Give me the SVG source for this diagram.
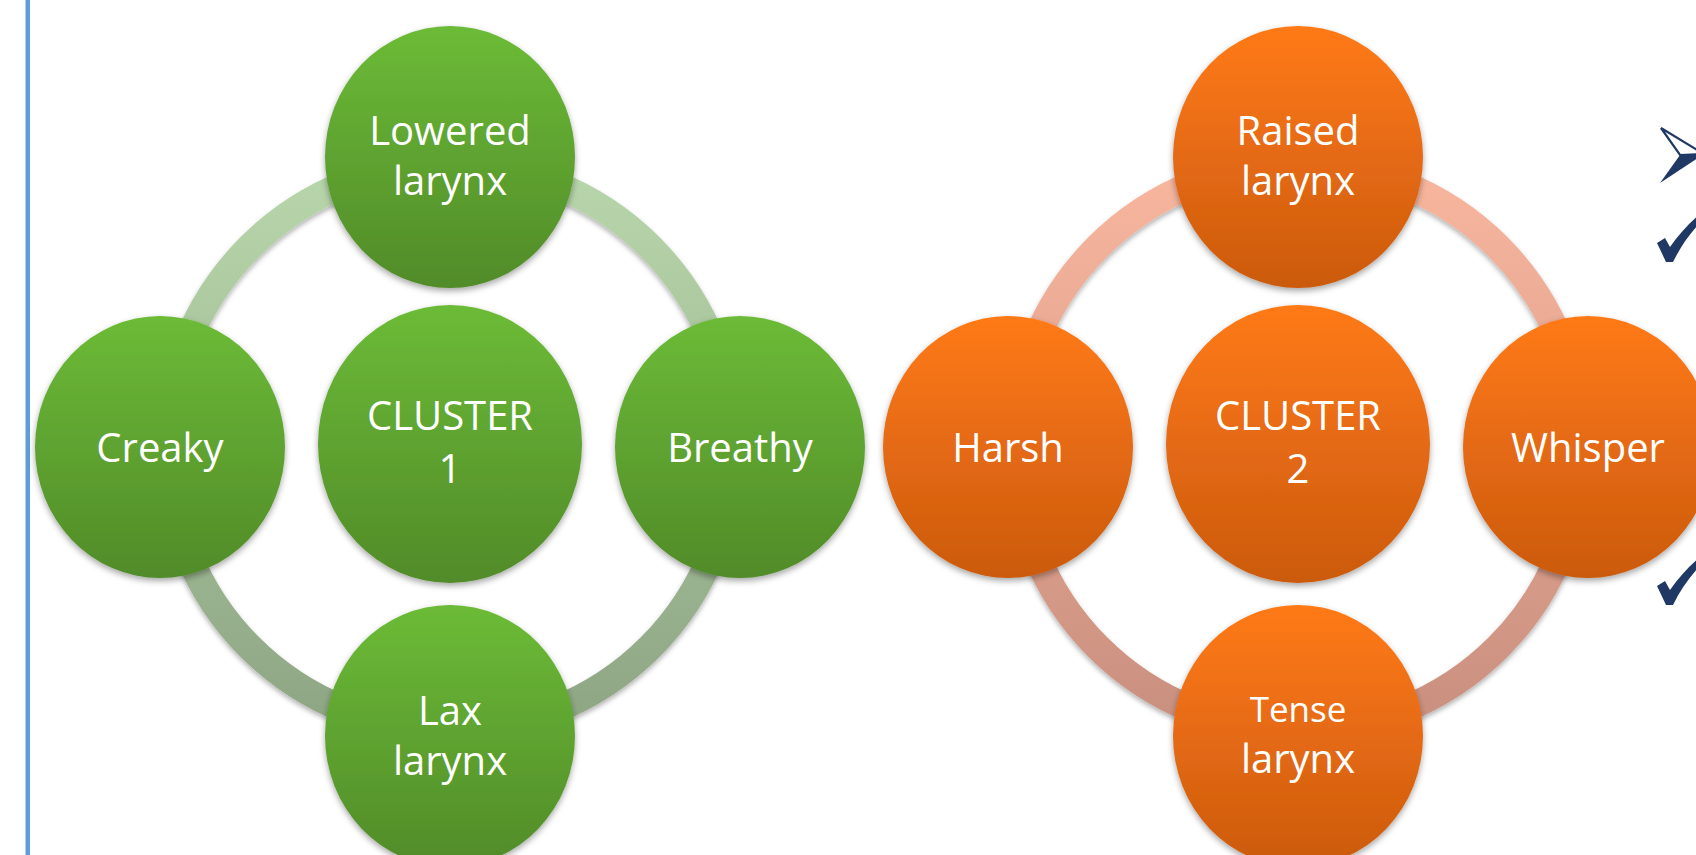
<svg xmlns="http://www.w3.org/2000/svg" width="1696" height="855" viewBox="0 0 1696 855">
  <defs>
    <linearGradient id="gFill" x1="0" y1="0" x2="0" y2="1">
      <stop offset="0" stop-color="#6cbb37"/>
      <stop offset="1" stop-color="#518b29"/>
    </linearGradient>
    <linearGradient id="oFill" x1="0" y1="0" x2="0" y2="1">
      <stop offset="0" stop-color="#ff7a16"/>
      <stop offset="1" stop-color="#cb5a0f"/>
    </linearGradient>
    <linearGradient id="gRing" gradientUnits="userSpaceOnUse" x1="0" y1="164" x2="0" y2="730">
      <stop offset="0" stop-color="#b8d6ab"/>
      <stop offset="1" stop-color="#8ea584"/>
    </linearGradient>
    <linearGradient id="oRing" gradientUnits="userSpaceOnUse" x1="0" y1="164" x2="0" y2="730">
      <stop offset="0" stop-color="#f8b69e"/>
      <stop offset="1" stop-color="#c98f7f"/>
    </linearGradient>
    <filter id="shadow" x="-20%" y="-20%" width="140%" height="140%">
      <feDropShadow dx="0" dy="3" stdDeviation="3" flood-color="#000" flood-opacity="0.35"/>
    </filter>
    <filter id="ringShadow" x="-20%" y="-20%" width="140%" height="140%">
      <feDropShadow dx="0" dy="3" stdDeviation="2.5" flood-color="#000" flood-opacity="0.3"/>
    </filter>
  </defs>
  <style>
    .lbl { font-family: "Open Sans", "Liberation Sans", sans-serif; font-size: 40px; fill: #ffffff; text-anchor: middle; }
    .sm { font-size: 35px; }
    .node { filter: url(#shadow); }
    .g { fill: url(#gFill); }
    .o { fill: url(#oFill); }
    .sym { fill: #203864; }
  </style>

  <rect x="0" y="0" width="1696" height="855" fill="#ffffff"/>
  <rect id="left-rule" x="25.5" y="0" width="4.5" height="855" fill="#5e9dd8"/>

  <g id="connectors">
    <circle cx="450" cy="447" r="283" fill="none" stroke="url(#gRing)" stroke-width="27" filter="url(#ringShadow)"/>
    <circle cx="1298" cy="447" r="283" fill="none" stroke="url(#oRing)" stroke-width="27" filter="url(#ringShadow)"/>
  </g>

  <!-- Cluster 1 -->
  <g id="lowered-larynx">
    <ellipse class="node g" cx="450" cy="157" rx="125" ry="131"/>
    <text class="lbl" x="450" y="145">Lowered</text>
    <text class="lbl" x="450" y="195">larynx</text>
  </g>
  <g id="creaky">
    <ellipse class="node g" cx="160" cy="447" rx="125" ry="131"/>
    <text class="lbl" x="160" y="462">Creaky</text>
  </g>
  <g id="cluster-1">
    <ellipse class="node g" cx="450" cy="444" rx="132" ry="139"/>
    <text class="lbl" x="450" y="430">CLUSTER</text>
    <text class="lbl" x="450" y="483">1</text>
  </g>
  <g id="breathy">
    <ellipse class="node g" cx="740" cy="447" rx="125" ry="131"/>
    <text class="lbl" x="740" y="462">Breathy</text>
  </g>
  <g id="lax-larynx">
    <ellipse class="node g" cx="450" cy="736" rx="125" ry="131"/>
    <text class="lbl" x="450" y="725">Lax</text>
    <text class="lbl" x="450" y="775">larynx</text>
  </g>

  <!-- Cluster 2 -->
  <g id="raised-larynx">
    <ellipse class="node o" cx="1298" cy="157" rx="125" ry="131"/>
    <text class="lbl" x="1298" y="145">Raised</text>
    <text class="lbl" x="1298" y="195">larynx</text>
  </g>
  <g id="harsh">
    <ellipse class="node o" cx="1008" cy="447" rx="125" ry="131"/>
    <text class="lbl" x="1008" y="462">Harsh</text>
  </g>
  <g id="cluster-2">
    <ellipse class="node o" cx="1298" cy="444" rx="132" ry="139"/>
    <text class="lbl" x="1298" y="430">CLUSTER</text>
    <text class="lbl" x="1298" y="483">2</text>
  </g>
  <g id="whisper">
    <ellipse class="node o" cx="1588" cy="447" rx="125" ry="131"/>
    <text class="lbl" x="1588" y="462">Whisper</text>
  </g>
  <g id="tense-larynx">
    <ellipse class="node o" cx="1298" cy="736" rx="125" ry="131"/>
    <text class="lbl sm" x="1298" y="722">Tense</text>
    <text class="lbl" x="1298" y="773">larynx</text>
  </g>

  <!-- bullets at right edge -->
  <g id="bullets">
    <path d="M1661,128 L1704,154 L1680,155 Z" fill="#ffffff" stroke="#203864" stroke-width="2.2" stroke-linejoin="miter"/>
    <path class="sym" d="M1680,155 L1704,154 L1660,183 Z"/>
    <path class="sym" d="M1657,243 L1665,238 L1670,247 C1679,234 1689,223 1700,214 L1702,221 C1690,233 1681,246 1673,262 L1666,262 Z"/>
    <path class="sym" d="M1657,586 L1665,581 L1670,590 C1679,577 1689,566 1700,557 L1702,564 C1690,576 1681,589 1673,605 L1666,605 Z"/>
  </g>
</svg>
